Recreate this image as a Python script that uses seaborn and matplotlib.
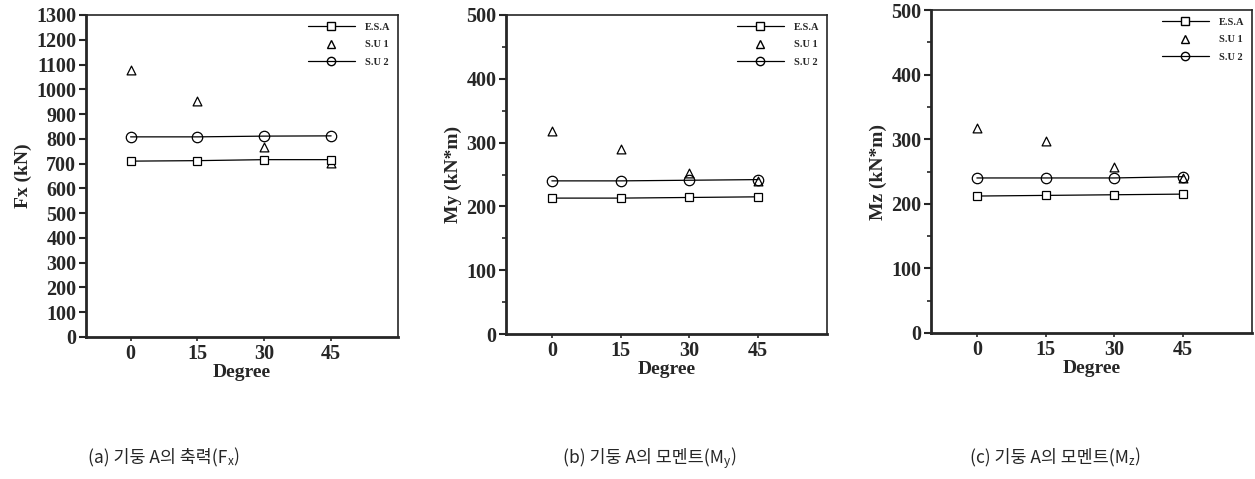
import numpy as np
import pandas as pd
import matplotlib
matplotlib.use("Agg")
import matplotlib.pyplot as plt
import seaborn as sns
from matplotlib.lines import Line2D
from matplotlib.ticker import MultipleLocator

# ---- data ----
degrees = [0, 15, 30, 45]
fx_esa = [710, 712, 716, 716]
fx_su1 = [1076, 953, 768, 703]
fx_su2 = [808, 808, 811, 812]
my_esa = [213, 213, 214, 215]
my_su1 = [318, 290, 252, 240]
my_su2 = [240, 240, 241, 242]
mz_esa = [212, 213, 214, 215]
mz_su1 = [317, 297, 257, 240]
mz_su2 = [240, 240, 240, 242]
series_names = ["E.S.A", "S.U 1", "S.U 2"]
ylabels = ["Fx (kN)", "My (kN*m)", "Mz (kN*m)"]
xlabel = "Degree"
captions = [("(a) 기둥 A의 축력(F", "x", ")"),
            ("(b) 기둥 A의 모멘트(M", "y", ")"),
            ("(c) 기둥 A의 모멘트(M", "z", ")")]

panels = [
    (fx_esa, fx_su1, fx_su2, 1300, 100, None),
    (my_esa, my_su1, my_su2, 500, 100, 50),
    (mz_esa, mz_su1, mz_su2, 500, 100, 50),
]

sns.set_style("ticks")
plt.rcParams["font.family"] = ["Liberation Serif", "DejaVu Serif"]

fig = plt.figure(figsize=(12.55, 4.79), dpi=100)
rects = [
    [86 / 1255, 1 - 337 / 479, 312 / 1255, 322 / 479],
    [506 / 1255, 1 - 334 / 479, 321 / 1255, 319 / 479],
    [931 / 1255, 1 - 333 / 479, 321 / 1255, 323 / 479],
]

for i, (esa, su1, su2, ymax, major, minor) in enumerate(panels):
    ax = fig.add_axes(rects[i])
    df = pd.DataFrame({"deg": degrees * 3,
                       "val": esa + su1 + su2,
                       "series": [series_names[0]] * 4 + [series_names[1]] * 4 + [series_names[2]] * 4})
    d_esa = df[df.series == series_names[0]]
    d_su1 = df[df.series == series_names[1]]
    d_su2 = df[df.series == series_names[2]]
    sns.lineplot(data=d_esa, x="deg", y="val", ax=ax, color="black", lw=0.9,
                 marker="s", markersize=5.5, markerfacecolor="white",
                 markeredgecolor="black", markeredgewidth=0.9, legend=False)
    sns.lineplot(data=d_su2, x="deg", y="val", ax=ax, color="black", lw=0.9,
                 marker="o", markersize=7.5, markerfacecolor="none",
                 markeredgecolor="black", markeredgewidth=0.9, legend=False)
    sns.scatterplot(data=d_su1, x="deg", y="val", ax=ax, marker="^", s=40,
                    facecolor="white", edgecolor="black", linewidth=0.9, legend=False)

    ax.set_xlim(-10, 60)
    ax.set_ylim(0, ymax)
    ax.set_xticks(degrees)
    ax.yaxis.set_major_locator(MultipleLocator(major))
    if minor:
        ax.yaxis.set_minor_locator(MultipleLocator(minor))
    ax.tick_params(axis="y", which="major", direction="out", length=5, width=1.5,
                   labelsize=14.5, pad=2)
    ax.tick_params(axis="x", which="major", direction="out", length=3, width=1.2,
                   labelsize=14.5, pad=2)
    ax.tick_params(axis="y", which="minor", direction="out", length=3, width=1.2)
    for lab in ax.get_xticklabels() + ax.get_yticklabels():
        lab.set_fontweight("bold")
    ax.set_xlabel(xlabel, fontsize=14, fontweight="bold", labelpad=0)
    ax.set_ylabel(ylabels[i], fontsize=14, fontweight="bold", labelpad=3)
    for side in ["left", "bottom"]:
        ax.spines[side].set_linewidth(2.0)
    for side in ["top", "right"]:
        ax.spines[side].set_visible(True)
        ax.spines[side].set_linewidth(1.2)

    handles = [
        Line2D([], [], color="black", lw=0.9, marker="s", markersize=6,
               markerfacecolor="white", markeredgecolor="black"),
        Line2D([], [], color="black", lw=0, marker="^", markersize=6,
               markerfacecolor="white", markeredgecolor="black"),
        Line2D([], [], color="black", lw=0.9, marker="o", markersize=6,
               markerfacecolor="none", markeredgecolor="black"),
    ]
    ax.legend(handles, series_names, loc="upper right", frameon=False,
              prop={"family": "Liberation Serif", "weight": "bold", "size": 7.5},
              handlelength=4.5, handletextpad=1.0, labelspacing=0.8,
              borderaxespad=0.3)

# captions with subscripts
renderer = fig.canvas.get_renderer()
cap_x = [88, 563, 970]
cap_family = ["Noto Sans CJK KR", "DejaVu Sans"]
W, H = 1255, 479
for (main, sub, end), x0 in zip(captions, cap_x):
    y0 = 1 - 462 / 479
    t1 = fig.text(x0 / W, y0, main, fontsize=12.5, family=cap_family, va="baseline")
    bb = t1.get_window_extent(renderer)
    t2 = fig.text(bb.x1 / W, y0 - 3 / H, sub, fontsize=8.5, family=cap_family, va="baseline")
    bb2 = t2.get_window_extent(renderer)
    fig.text(bb2.x1 / W, y0, end, fontsize=12.5, family=cap_family, va="baseline")

fig.savefig("out.png", dpi=100)
